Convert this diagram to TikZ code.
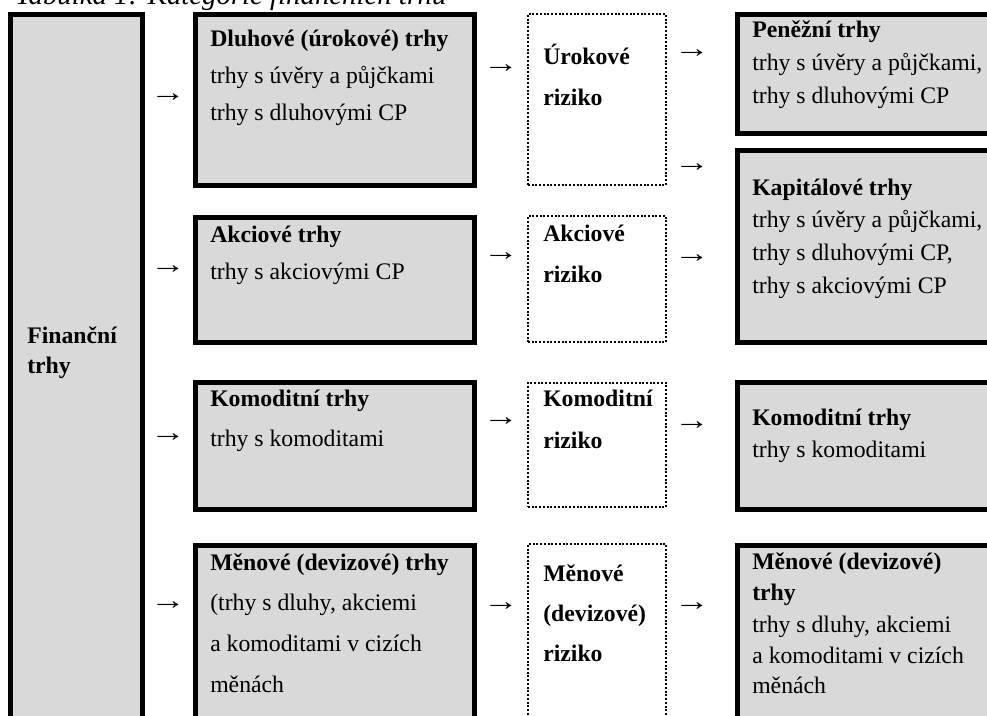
\documentclass[tikz,border=0pt]{standalone}
\usepackage{fontspec}
\setmainfont{Liberation Serif}
\usetikzlibrary{fit}
\definecolor{boxgray}{HTML}{D9D9D9}
\newcommand{\rarr}{\scalebox{1.5}[1.15]{→}}
\begin{document}
\begin{tikzpicture}[x=0.75pt,y=-0.75pt,
  gbox/.style={draw=black, line width=3.9pt, fill=boxgray, inner sep=0pt},
  dbox/.style={draw=black, line width=1.5pt, dash pattern=on 1.5pt off 1.3pt, inner sep=0pt},
  txt/.style={anchor=base west, inner sep=0pt, font=\fontsize{17.8pt}{20pt}\selectfont},
  btxt/.style={anchor=base west, inner sep=0pt, font=\fontsize{17.8pt}{20pt}\selectfont\bfseries},
  arr/.style={inner sep=0pt, font=\fontsize{17.8pt}{20pt}\selectfont}]
\useasboundingbox (0,0) rectangle (987,716);
\clip (0,0) rectangle (987,716);
% title (cut off at top)
\node[anchor=base west, inner sep=0pt, font=\fontsize{21.6pt}{24pt}\selectfont\itshape] (title) at (15,5) {Tabulka 1: Kategorie finančních trhů};
% column 1
\node[gbox, fit={(10.5,14.5) (142.5,760)}] (fin) {};
\node[btxt] (fin1) at (27,343) {Finanční};
\node[btxt] (fin2) at (27,373) {trhy};
% column 2
\node[gbox, fit={(195.5,14.5) (474.5,185.5)}] (m1) {};
\node[gbox, fit={(195.5,217.5) (474.5,342.5)}] (m2) {};
\node[gbox, fit={(195.5,382.5) (474.5,509.5)}] (m3) {};
\node[gbox, fit={(195.5,545.5) (474.5,760)}] (m4) {};
\node[btxt] (m1a) at (210,47) {Dluhové (úrokové) trhy};
\node[txt] (m1b) at (210,84) {trhy s úvěry a půjčkami};
\node[txt] (m1c) at (210,121) {trhy s dluhovými CP};
\node[btxt] (m2a) at (210,243) {Akciové trhy};
\node[txt] (m2b) at (210,279) {trhy s akciovými CP};
\node[btxt] (m3a) at (210,406) {Komoditní trhy};
\node[txt] (m3b) at (210,446) {trhy s komoditami};
\node[btxt] (m4a) at (210,570) {Měnové (devizové) trhy};
\node[txt] (m4b) at (210,610) {(trhy s dluhy, akciemi};
\node[txt] (m4c) at (210,651) {a komoditami v cizích};
\node[txt] (m4d) at (210,692) {měnách};
% column 3
\node[dbox, fit={(528,14) (666,185)}] (r1) {};
\node[dbox, fit={(528,216) (666,342)}] (r2) {};
\node[dbox, fit={(528,383) (666,507)}] (r3) {};
\node[dbox, fit={(528,544) (666,760)}] (r4) {};
\node[btxt] (r1a) at (543,65) {Úrokové};
\node[btxt] (r1b) at (543,106) {riziko};
\node[btxt] (r2a) at (543,242) {Akciové};
\node[btxt] (r2b) at (543,282) {riziko};
\node[btxt] (r3a) at (543,406) {Komoditní};
\node[btxt] (r3b) at (543,448) {riziko};
\node[btxt] (r4a) at (543,581) {Měnové};
\node[btxt] (r4b) at (543,621) {(devizové)};
\node[btxt] (r4c) at (543,661) {riziko};
% column 4
\node[gbox, fit={(737.5,14.5) (1010,133.5)}] (k1) {};
\node[gbox, fit={(737.5,150.5) (1010,342.5)}] (k2) {};
\node[gbox, fit={(737.5,382.5) (1010,509.5)}] (k3) {};
\node[gbox, fit={(737.5,545.5) (1010,760)}] (k4) {};
\node[btxt] (k1a) at (752,38) {Peněžní trhy};
\node[txt] (k1b) at (752,71) {trhy s úvěry a půjčkami,};
\node[txt] (k1c) at (752,104) {trhy s dluhovými CP};
\node[btxt] (k2a) at (752,196) {Kapitálové trhy};
\node[txt] (k2b) at (752,228) {trhy s úvěry a půjčkami,};
\node[txt] (k2c) at (752,261) {trhy s dluhovými CP,};
\node[txt] (k2d) at (752,293) {trhy s akciovými CP};
\node[btxt] (k3a) at (752,425) {Komoditní trhy};
\node[txt] (k3b) at (752,457) {trhy s komoditami};
\node[btxt] (k4a) at (752,569) {Měnové (devizové)};
\node[btxt] (k4b) at (752,600) {trhy};
\node[txt] (k4c) at (752,632) {trhy s dluhy, akciemi};
\node[txt] (k4d) at (752,663) {a komoditami v cizích};
\node[txt] (k4e) at (752,693) {měnách};
% arrows (text glyphs)
\node[arr] (a11) at (168,98) {\rarr};
\node[arr] (a12) at (168,270) {\rarr};
\node[arr] (a13) at (168,438) {\rarr};
\node[arr] (a14) at (168,606) {\rarr};
\node[arr] (a21) at (501,69) {\rarr};
\node[arr] (a22) at (501,257) {\rarr};
\node[arr] (a23) at (501,422) {\rarr};
\node[arr] (a24) at (501,607) {\rarr};
\node[arr] (a31) at (692,54) {\rarr};
\node[arr] (a32) at (692,168) {\rarr};
\node[arr] (a33) at (692,259) {\rarr};
\node[arr] (a34) at (692,426) {\rarr};
\node[arr] (a35) at (692,607) {\rarr};
\end{tikzpicture}
\end{document}
